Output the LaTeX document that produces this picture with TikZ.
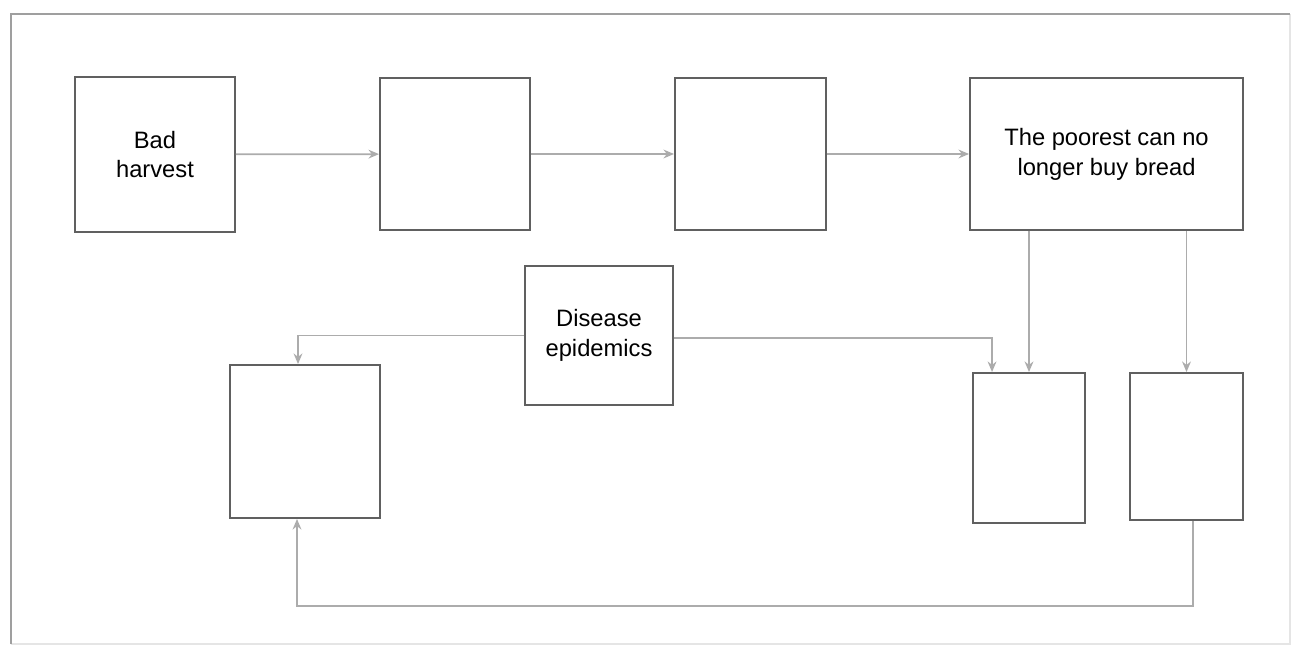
\documentclass[tikz,border=0pt]{standalone}
\usepackage{fontspec}
\setmainfont{Liberation Sans}
\usetikzlibrary{arrows.meta,positioning}

\tikzset{
    blok/.style={draw=gray!75!black, line width=1.1pt, fill=white, inner sep=2pt,
                 align=center, font=\fontsize{13.5}{17}\selectfont},
    fleche/.style={-{Stealth[length=6pt,width=5pt]}, draw=gray!65, line width=1pt},
}

\begin{document}
\begin{tikzpicture}[x=0.02cm, y=-0.02cm]
        % --- Cadre et marges ---
        \useasboundingbox (0,0) rectangle (1295,648);
        \draw[gray!20, line width=0.9pt] (1290,14) -- (1290,644) -- (11,644);
        \draw[gray!75, line width=1.1pt] (11,644) -- (11,14) -- (1290,14);

        % --- Chaîne du haut ---
        \node[blok, minimum width=3.2cm, minimum height=3.1cm] (harvest) at (155,154.5) {Bad\\harvest};
        \node[blok, minimum width=3.0cm, minimum height=3.04cm] (step2) at (455,154) {};
        \node[blok, minimum width=3.02cm, minimum height=3.04cm] (step3) at (750.5,154) {};
        \node[blok, minimum width=5.46cm, minimum height=3.04cm] (poorest) at (1106.5,154)
            {The poorest can no\\longer buy bread};

        % --- Rangée du bas ---
        \node[blok, minimum width=2.96cm, minimum height=2.78cm] (disease) at (599,335.5) {Disease\\epidemics};
        \node[blok, minimum width=3.0cm, minimum height=3.06cm] (leftbox) at (305,441.5) {};
        \node[blok, minimum width=2.24cm, minimum height=3.0cm] (right1) at (1029,448) {};
        \node[blok, minimum width=2.26cm, minimum height=2.94cm] (right2) at (1186.5,446.5) {};

        % --- Flèches horizontales ---
        \draw[fleche] (harvest) -- (step2);
        \draw[fleche] (step2) -- (step3);
        \draw[fleche] (step3) -- (poorest);

        % --- Descentes depuis le pain ---
        \draw[fleche] (right1.north |- poorest.south) -- (right1.north);
        \draw[fleche] (right2.north |- poorest.south) -- (right2.north);

        % --- Épidémies vers les deux côtés ---
        \draw[fleche] (disease.west) -| ([xshift=-0.14cm]leftbox.north);
        \draw[fleche] ([yshift=-0.05cm]disease.east) -| ([xshift=0.4cm]right1.north west);

        % --- Boucle de retour ---
        \coordinate (retour) at (700,606);
        \draw[fleche] ([xshift=0.13cm]right2.south) |- (retour) -| ([xshift=-0.16cm]leftbox.south);
\end{tikzpicture}
\end{document}
